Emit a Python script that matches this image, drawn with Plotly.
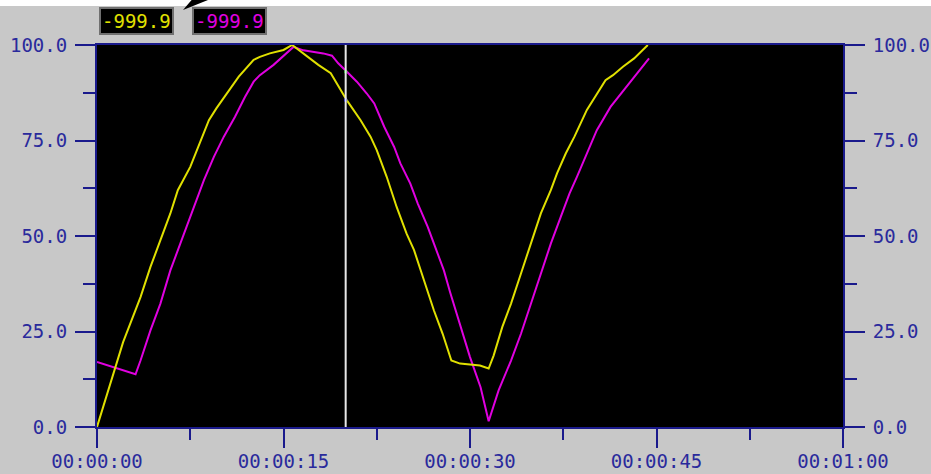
import pandas as pd
import plotly.graph_objects as go

# --- data (seconds, value 0..100) ---
yellow_sec = [0, 2.1, 3.5, 4.3, 5.9, 6.5, 7.5, 9.0, 9.6, 10.6, 11.4, 12.6, 13.1, 13.9,
              15.0, 15.7, 16.4, 17.2, 17.8, 18.8, 19.3, 20.1, 21.2, 22.0, 22.5, 23.3,
              24.1, 24.9, 25.5, 26.3, 27.1, 27.8, 28.5, 29.2, 30.8, 31.5, 31.9, 32.6,
              33.3, 34.1, 34.9, 35.7, 36.5, 37.0, 37.7, 38.4, 39.4, 40.2, 40.9, 41.5,
              42.3, 43.2, 44.3]
yellow_val = [0, 22.2, 34.0, 41.9, 55.9, 62.0, 68.1, 80.3, 83.4, 88.2, 91.7, 96.1, 96.9, 97.8,
              98.7, 100.0, 98.2, 96.1, 94.8, 92.6, 90.0, 85.5, 80.3, 76.0, 72.5, 65.5,
              57.6, 50.6, 46.3, 38.4, 30.5, 24.4, 17.4, 16.6, 16.1, 15.3, 18.7, 26.2,
              32.3, 40.2, 48.0, 55.9, 62.0, 66.4, 71.6, 76.0, 83.0, 87.3, 90.8, 92.1,
              94.3, 96.5, 100.0]

magenta_sec = [0, 1.6, 3.1, 3.5, 4.3, 5.1, 5.9, 6.7, 7.5, 8.6, 9.4, 10.2, 11.1, 11.9,
               12.6, 13.1, 14.2, 15.1, 15.8, 16.6, 17.4, 18.2, 18.9, 19.4, 20.1, 20.9,
               21.7, 22.3, 23.1, 23.9, 24.4, 25.2, 25.8, 26.6, 27.1, 27.9, 28.4, 29.2,
               30.0, 30.85, 31.5, 32.3, 33.3, 34.1, 34.9, 35.7, 36.5, 37.3, 38.0, 38.6,
               39.4, 40.2, 41.3, 42.4, 43.5, 44.4]
magenta_val = [17.0, 15.3, 13.8, 17.4, 25.3, 32.3, 41.0, 48.0, 55.0, 64.6, 70.7, 76.0, 81.2, 86.4,
               90.4, 92.1, 94.8, 97.4, 99.5, 98.6, 98.2, 97.8, 97.2, 95.2, 93.0, 90.4,
               87.3, 84.7, 78.6, 73.3, 69.0, 63.7, 58.5, 52.4, 48.0, 41.0, 35.3, 26.6,
               18.3, 10.4, 1.5, 9.6, 17.4, 24.4, 32.3, 40.2, 48.0, 55.0, 61.1, 65.5,
               71.6, 77.7, 83.8, 88.2, 92.6, 96.5]

cursor_sec = 20.0
cursor_vals = [93.0, 85.6]
cursor_colors = ["#00c000", "#0000ff"]

readouts = ["-999.9", "-999.9"]
readout_colors = ["#e0e000", "#e000e0"]

x_range_sec = [0, 60]

# --- styling ---
BG = "#c8c8c8"
NAVY = "#1a1a8c"
TXT = "#2a2a9c"
FONT = "DejaVu Sans Mono"

base = pd.Timestamp("2024-01-01 00:00:00")


def to_dt(secs):
    return base + pd.to_timedelta(secs, unit="s")


fig = go.Figure()

fig.add_trace(go.Scatter(
    x=to_dt(magenta_sec), y=magenta_val, mode="lines",
    line=dict(color=readout_colors[1], width=2), hoverinfo="skip",
))
fig.add_trace(go.Scatter(
    x=to_dt(yellow_sec), y=yellow_val, mode="lines",
    line=dict(color=readout_colors[0], width=2), hoverinfo="skip",
))
# invisible trace so the right-hand axis is drawn
fig.add_trace(go.Scatter(
    x=to_dt(x_range_sec), y=[0, 100], yaxis="y2", mode="lines",
    line=dict(width=0), hoverinfo="skip",
))

# cursor line + cursor dots
fig.add_shape(type="line", xref="x", yref="paper",
              x0=to_dt([cursor_sec])[0], x1=to_dt([cursor_sec])[0], y0=0, y1=1,
              line=dict(color="#e8e8e8", width=2), layer="above")
fig.add_trace(go.Scatter(
    x=to_dt([cursor_sec] * len(cursor_vals)), y=cursor_vals, mode="markers",
    marker=dict(color=cursor_colors, size=3, symbol="square"), hoverinfo="skip",
))

# white strip at the very top of the window
fig.add_shape(type="rect", xref="paper", yref="paper",
              x0=-0.2, x1=1.2, y0=(426.5 - 6) / 381.5, y1=1.2,
              fillcolor="white", line=dict(width=0), layer="below")
# black pointer wedge above the readouts
fig.add_shape(type="path", xref="paper", yref="paper",
              path="M 0.1153 1.0917 L 0.1300 1.125 L 0.1580 1.125 Z",
              fillcolor="black", line=dict(width=0))

# readout boxes
for i, (txt, col) in enumerate(zip(readouts, readout_colors)):
    fig.add_annotation(
        xref="paper", yref="paper", x=(99 + i * 93 - 97) / 746, y=(426.5 - 21.5) / 381.5,
        xanchor="left", yanchor="middle", showarrow=False,
        text=txt, font=dict(family=FONT, size=19, color=col),
        bgcolor="black", bordercolor="#707070", borderwidth=2, borderpad=1,
    )

tick_font = dict(family=FONT, size=19, color=TXT)
yaxis_common = dict(
    range=[0, 100], dtick=25, tick0=0, tickformat=".1f",
    showgrid=False, zeroline=False, automargin=False,
    ticks="outside", ticklen=20, tickwidth=2, tickcolor=NAVY,
    showline=True, linewidth=2, linecolor=NAVY,
    tickfont=tick_font, ticklabelstandoff=4,
    minor=dict(dtick=12.5, ticks="outside", ticklen=12, tickwidth=2, tickcolor=NAVY),
)

fig.update_layout(
    width=931, height=474,
    margin=dict(l=97, r=88, t=45, b=47, autoexpand=False),
    paper_bgcolor=BG, plot_bgcolor="black",
    showlegend=False,
    xaxis=dict(
        type="date", range=list(to_dt(x_range_sec)),
        tickformat="%H:%M:%S", dtick=15000, tick0=base,
        showgrid=False, zeroline=False, automargin=False,
        ticks="outside", ticklen=19, tickwidth=2, tickcolor=NAVY,
        showline=True, linewidth=2, linecolor=NAVY, mirror=True,
        tickfont=tick_font, ticklabelstandoff=-3,
        minor=dict(dtick=7500, ticks="outside", ticklen=11, tickwidth=2, tickcolor=NAVY),
    ),
    yaxis=dict(side="left", **yaxis_common),
    yaxis2=dict(side="right", overlaying="y", **yaxis_common),
)

# page body margin would shift the figure by 8px
fig.write_html("out.html", config={"displayModeBar": False},
               post_script="document.body.style.margin='0px';")
